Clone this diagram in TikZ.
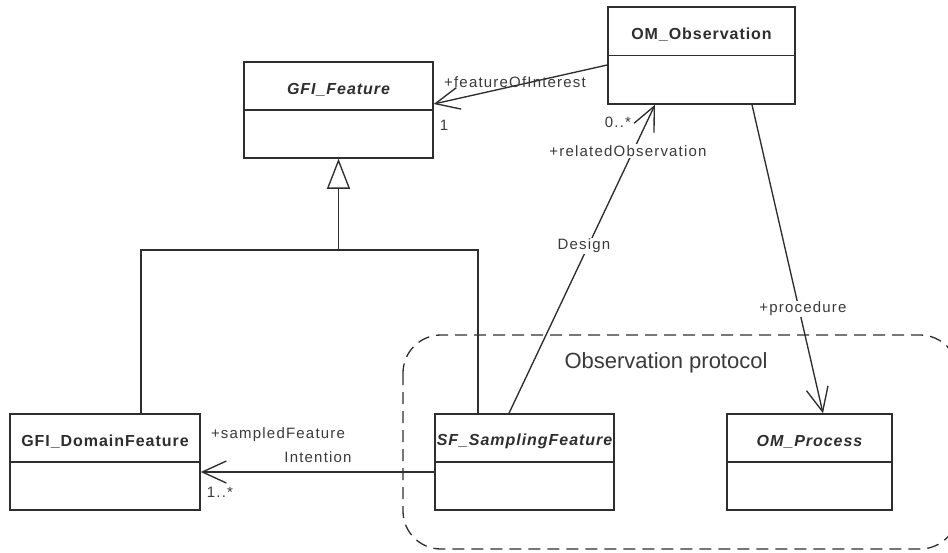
\documentclass[tikz,border=0pt]{standalone}
\usepackage{fontspec}
\setmainfont{Liberation Sans}
\newfontfamily\lblfont[LetterSpace=8]{Liberation Sans}
\newfontfamily\clsfont[LetterSpace=6]{Liberation Sans}
\usetikzlibrary{arrows.meta,calc}
\definecolor{lc}{HTML}{2E2E2E}
\definecolor{tc}{HTML}{3A3A3A}
\begin{document}
\begin{tikzpicture}[x=1pt,y=-1pt,
  cls/.style={draw=lc, line width=1.5pt, inner sep=0pt, fill=white},
  clsname/.style={text=lc, font=\clsfont\fontsize{16}{19}\selectfont\bfseries, inner sep=0pt},
  lbl/.style={text=tc, font=\lblfont\fontsize{15}{18}\selectfont, inner sep=1pt},
  lblw/.style={lbl, fill=white},
  conn/.style={draw=lc, line width=1.35pt},
  vtip/.style={-{Straight Barb[length=24pt,width=22pt,line width=1.35pt]}},
  gentip/.style={-{Triangle[open,length=30pt,width=23pt,line width=1.35pt,fill=white]}},
  proto/.style={draw=lc, line width=1.3pt, dash pattern=on 12pt off 7pt, rounded corners=38pt}
]
\useasboundingbox (0,0) rectangle (948,552);

% package (dashed rounded region)
\draw[proto] (403,335) rectangle (958,549);
\node[text=tc, font=\fontsize{22}{26}\selectfont] (protolbl) at (666,363) {Observation protocol};

% classes
\node[cls, minimum width=189pt, minimum height=96pt] (gf) at (338.5,110) {};
\node[cls, minimum width=187pt, minimum height=97pt] (om) at (701.5,55.5) {};
\node[cls, minimum width=190pt, minimum height=96pt] (dom) at (105,462) {};
\node[cls, minimum width=179pt, minimum height=96pt] (sf) at (524.5,462) {};
\node[cls, minimum width=165pt, minimum height=96pt] (proc) at (809.5,462) {};

\foreach \n in {gf,om,dom,sf,proc} {
  \draw[draw=lc, line width=1.5pt] (\n.west) -- (\n.east);
}

\node[clsname] (gfn) at ($(gf.north)!0.58!(gf.center)$) {\itshape GFI\_Feature};
\node[clsname] (omn) at ($(om.north)!0.58!(om.center)$) {OM\_Observation};
\node[clsname] (domn) at ($(dom.north)!0.58!(dom.center)$) {GFI\_DomainFeature};
\node[clsname] (sfn) at ($(sf.north)!0.58!(sf.center)$) {\itshape SF\_SamplingFeature};
\node[clsname] (procn) at ($(proc.north)!0.58!(proc.center)$) {\itshape OM\_Process};

% generalization
\coordinate (hub) at (338.5,250);
\draw[conn, gentip] (hub) -- (gf.south);
\draw[conn] ([xshift=36pt]dom.north) |- (hub) -| ([xshift=-46.5pt]sf.north);

% associations
\draw[conn, vtip] ([yshift=-9.5pt]om.west) -- ([yshift=6pt]gf.east);
\draw[conn, vtip] ([xshift=-15.5pt]sf.north) -- ([xshift=-46.5pt]om.south);
\draw[conn, vtip] ([xshift=50.5pt]om.south) -- ([xshift=13.5pt]proc.north);
\draw[conn, vtip] ([yshift=-10pt]sf.west) -- ([yshift=-10pt]dom.east);

% labels
\node[lbl] (foi) at (515,82) {+featureOfInterest};
\node[lbl] (one) at (444,125) {1};
\node[lbl] (zs) at (618,122) {0..*};
\node[lblw] (relobs) at (628,151) {+relatedObservation};
\node[lblw] (design) at (584,246) {Design};
\node[lblw] (procl) at (803,309) {+procedure};
\node[lbl] (sfeat) at (278,435) {+sampledFeature};
\node[lbl] (intent) at (318,457) {Intention};
\node[lbl] (oneS) at (220,492) {1..*};
\end{tikzpicture}
\end{document}
